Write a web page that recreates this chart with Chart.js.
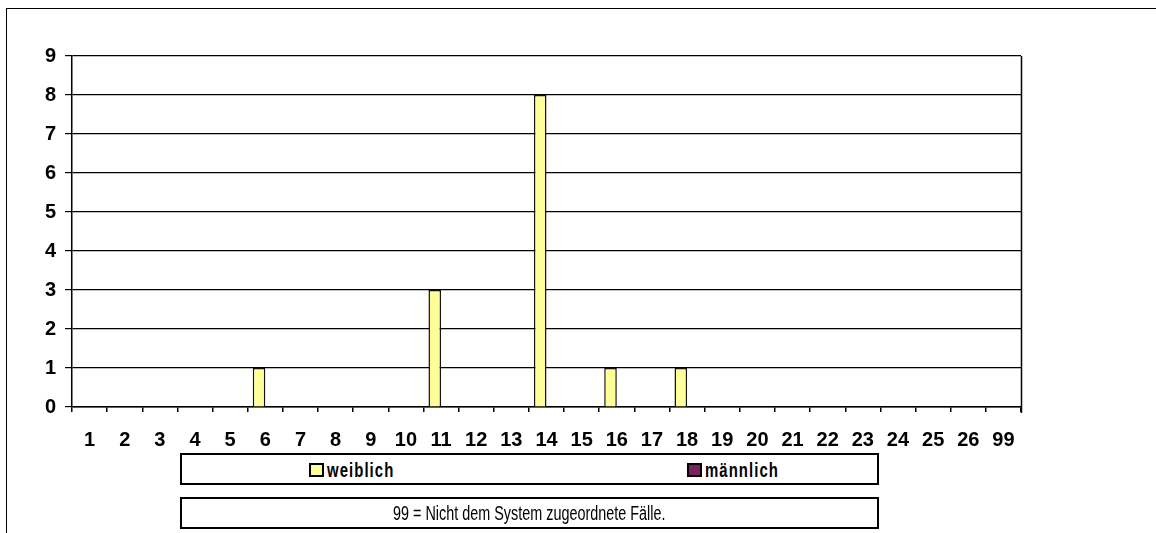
<!DOCTYPE html>
<html>
<head>
<meta charset="utf-8">
<script src="https://cdn.jsdelivr.net/npm/chart.js@4.4.1/dist/chart.umd.min.js"></script>
<style>
  html, body { margin: 0; padding: 0; background: #fff; }
  body { width: 1156px; height: 533px; position: relative; overflow: hidden; font-family: "Liberation Sans", Arial, sans-serif; }
  #frame { position: absolute; left: 6px; top: 8px; width: 1200px; height: 600px; border-left: 1.5px solid #000; border-top: 1.5px solid #000; }
  #wrap { position: absolute; left: 0; top: 0; width: 1156px; height: 533px; }
  .box { position: absolute; left: 180px; width: 699px; border: 2px solid #000; background: #fff; box-sizing: border-box; }
  #legend { top: 453px; height: 32px; }
  #note { top: 497px; height: 32px; text-align: center; }
  .item { position: absolute; top: 4px; height: 22px; display: flex; align-items: center; white-space: nowrap; }
  .sw { width: 15px; height: 14px; border: 2px solid #000; box-sizing: border-box; margin-right: 3px; }
  .lt { font-weight: bold; font-size: 21px; display: inline-block; transform: scaleX(0.71); transform-origin: left center; letter-spacing: 1.5px; }
  #note span { display: inline-block; font-size: 20px; line-height: 28px; transform: scaleX(0.72); }
</style>
</head>
<body>
<div id="frame"></div>
<div id="wrap"><canvas id="c" width="1156" height="533"></canvas></div>
<div id="legend" class="box"></div>
<div id="note" class="box"><span id="noteText"></span></div>
<script>
const categories = ['1','2','3','4','5','6','7','8','9','10','11','12','13','14','15','16','17','18','19','20','21','22','23','24','25','26','99'];
const weiblich =  [0,0,0,0,0,1,0,0,0,0,3,0,0,8,0,1,0,1,0,0,0,0,0,0,0,0,0];
const maennlich = [0,0,0,0,0,0,0,0,0,0,0,0,0,0,0,0,0,0,0,0,0,0,0,0,0,0,0];
const seriesNames = ['weiblich', 'männlich'];
const seriesColors = ['#FFFF99', '#7F1F5F'];
const yTicks = [0,1,2,3,4,5,6,7,8,9];
const noteText = '99 = Nicht dem System zugeordnete Fälle.';

const FONT = '"Liberation Sans", Arial, sans-serif';

const rightBorder = {
  id: 'rightBorder',
  afterDraw(chart) {
    const a = chart.chartArea, ctx = chart.ctx;
    ctx.save();
    ctx.strokeStyle = '#000';
    ctx.lineWidth = 1.5;
    ctx.beginPath();
    ctx.moveTo(Math.round(a.right) + 0.5, a.top);
    ctx.lineTo(Math.round(a.right) + 0.5, a.bottom + 6);
    ctx.stroke();
    ctx.restore();
  }
};

new Chart(document.getElementById('c'), {
  type: 'bar',
  data: {
    labels: categories,
    datasets: [
      { label: seriesNames[0], data: weiblich, backgroundColor: seriesColors[0], borderColor: '#111', borderWidth: 1.5, categoryPercentage: 0.716, barPercentage: 1.0 },
      { label: seriesNames[1], data: maennlich, backgroundColor: seriesColors[1], borderColor: '#111', borderWidth: 0, categoryPercentage: 0.716, barPercentage: 1.0 }
    ]
  },
  options: {
    responsive: false,
    animation: false,
    devicePixelRatio: 1,
    layout: { padding: { left: 0, top: 56, right: 135, bottom: 66 } },
    plugins: { legend: { display: false }, tooltip: { enabled: false } },
    scales: {
      x: {
        grid: { offset: true, drawOnChartArea: false, drawTicks: true, tickLength: 5, color: '#000', lineWidth: 1.5 },
        border: { display: true, color: '#000', width: 1.5 },
        ticks: { color: '#000', font: { family: FONT, size: 20, weight: 'bold' }, padding: 16, maxRotation: 0, autoSkip: false },
        afterFit(s) { s.height = 60; }
      },
      y: {
        min: 0, max: 9,
        afterBuildTicks(s) { s.ticks = yTicks.map(v => ({ value: v })); },
        grid: { color: '#000', lineWidth: 1.2, tickLength: 7 },
        border: { display: true, color: '#000', width: 1.5 },
        ticks: { color: '#000', font: { family: FONT, size: 20, weight: 'bold' }, padding: 9, stepSize: 1 },
        afterFit(s) { s.width = 72; }
      }
    }
  },
  plugins: [rightBorder]
});

// legend built from series arrays
const legend = document.getElementById('legend');
const legendX = [127, 505];
seriesNames.forEach((name, i) => {
  const it = document.createElement('div');
  it.className = 'item';
  it.style.left = legendX[i] + 'px';
  const sw = document.createElement('span');
  sw.className = 'sw';
  sw.style.background = seriesColors[i];
  const t = document.createElement('span');
  t.className = 'lt';
  t.textContent = name;
  it.appendChild(sw); it.appendChild(t);
  legend.appendChild(it);
});
document.getElementById('noteText').textContent = noteText;
</script>
</body>
</html>
